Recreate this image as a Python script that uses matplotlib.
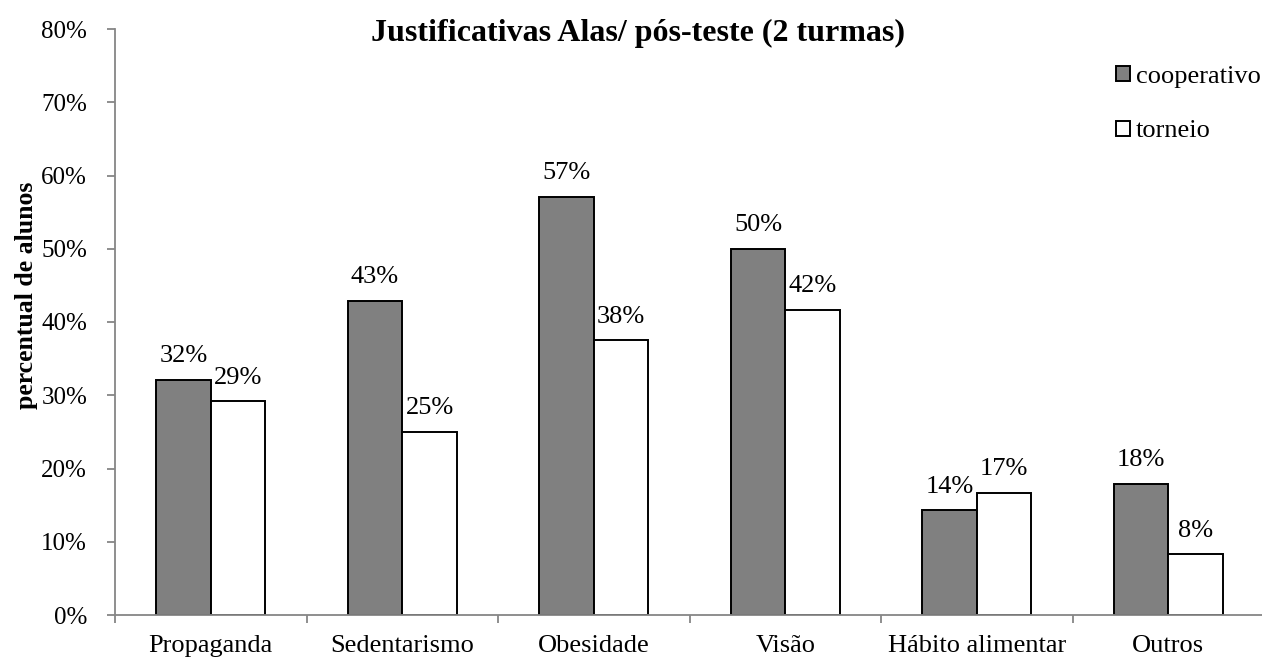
import matplotlib
matplotlib.use("Agg")
import matplotlib.pyplot as plt
import numpy as np

categorias = ["Propaganda", "Sedentarismo", "Obesidade", "Visão", "Hábito alimentar", "Outros"]
cooperativo = [32.1, 42.9, 57.1, 50.0, 14.3, 17.9]
torneio = [29.2, 25.0, 37.5, 41.7, 16.7, 8.3]
yticks = [0, 10, 20, 30, 40, 50, 60, 70, 80]

plt.rcParams['font.family'] = ['Liberation Serif', 'DejaVu Serif']
W, H = 1262, 659
fig = plt.figure(figsize=(W / 100, H / 100), dpi=100)
# axes run past the right edge of the figure, like the original export
ax = fig.add_axes([115 / W, (H - 615) / H, 1149 / W, (615 - 29) / H])

x = np.arange(len(categorias)) + 0.5
w = 0.285
b1 = ax.bar(x - w / 2, cooperativo, w, color='#808080', edgecolor='black', linewidth=1.4, label='cooperativo')
b2 = ax.bar(x + w / 2, torneio, w, color='white', edgecolor='black', linewidth=1.4, label='torneio')

for bars, vals in ((b1, cooperativo), (b2, torneio)):
    for r, v in zip(bars, vals):
        ax.annotate(f"{v:.0f}%", (r.get_x() + r.get_width() / 2, v),
                    xytext=(0, 9), textcoords='offset points',
                    ha='center', va='bottom', fontsize=19)

ax.set_xlim(0, 6)
ax.set_ylim(0, 80)
ax.set_yticks(yticks)
ax.set_yticklabels([f"{t}%" for t in yticks], fontsize=18)
ax.set_xticks(np.arange(0, 7))
ax.set_xticklabels([])
ax.set_xticks(x, minor=True)
ax.set_xticklabels(categorias, minor=True, fontsize=19)
ax.tick_params(axis='x', which='minor', length=0, pad=14.5)
ax.tick_params(axis='x', which='major', length=6, color='#868686', width=1.3, direction='out')
ax.tick_params(axis='y', length=6, color='#868686', width=1.3, direction='out', pad=14)

for s in ('top', 'right'):
    ax.spines[s].set_visible(False)
for s in ('left', 'bottom'):
    ax.spines[s].set_color('#868686')
    ax.spines[s].set_linewidth(1.3)

fig.text(638 / W, 1 - 33 / H, "Justificativas Alas/ pós-teste (2 turmas)",
         ha='center', va='center', fontsize=23, fontweight='bold')
fig.text(27 / W, 1 - 295 / H, "percentual de alunos", rotation=90,
         ha='center', va='center', fontsize=18.5, fontweight='bold')

fig.legend(handles=[b1, b2], loc='upper right', bbox_to_anchor=(1 - 1 / W, 1 - 66 / H),
           frameon=False, fontsize=19, handlelength=0.5, handleheight=0.5,
           handletextpad=0.25, labelspacing=1.23, borderaxespad=0, borderpad=0)

fig.savefig("out.png", dpi=100)
